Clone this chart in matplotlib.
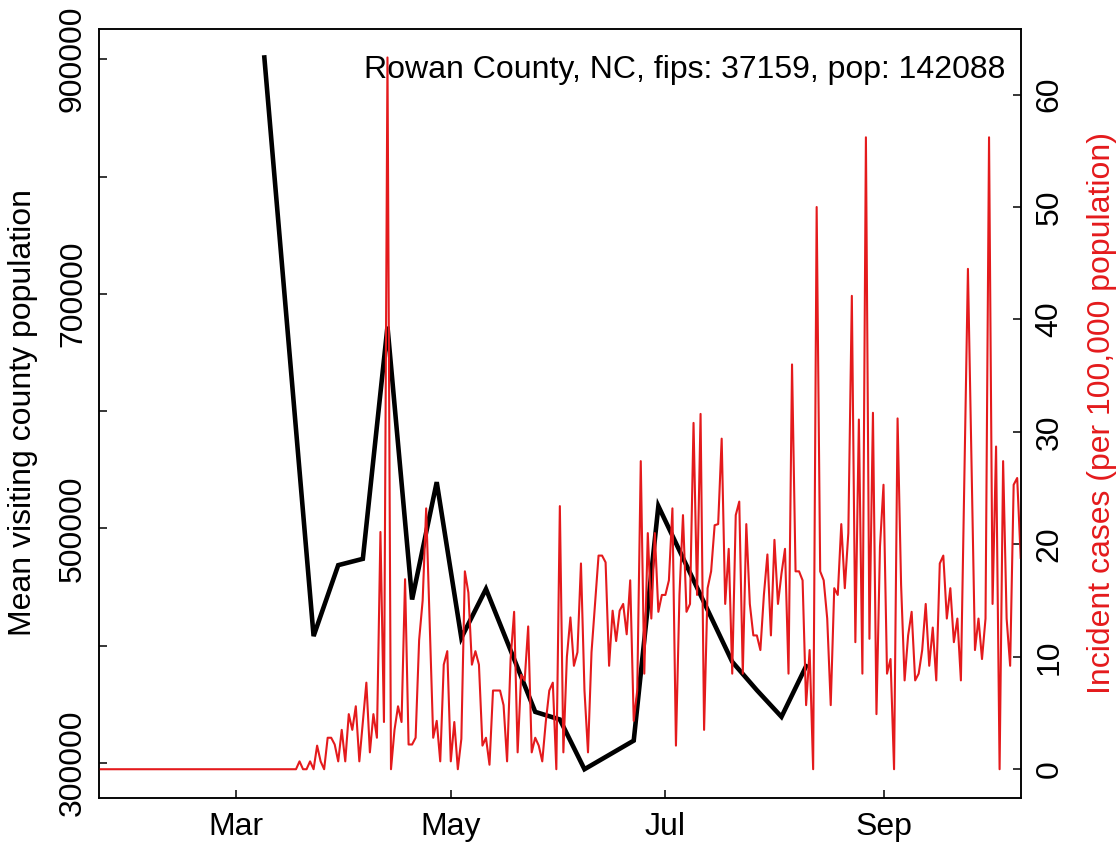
import matplotlib
matplotlib.use("Agg")
import matplotlib.pyplot as plt
import numpy as np
import pandas as pd

# daily incident cases per 100,000 (Jan 22 - Oct 10, 2020)
case_start = "2020-01-22"
cases = [0.0] * 57 + [
    0.7, 0, 0, 0.7, 0, 2.1, 0.7, 0, 2.8, 2.8,            # 57-66
    2.2, 0.7, 3.5, 0.7, 4.9, 3.5, 5.6, 0.7, 4.2, 7.7,    # 67-76
    1.5, 4.9, 2.8, 21.1, 4.2, 63.3, 0, 3.5, 5.6, 4.2,    # 77-86
    16.9, 2.2, 2.2, 2.8, 11.5, 15, 23.2, 13, 2.8, 4.3,   # 87-96
    0.7, 9.3, 10.5, 0.7, 4.2, 0, 2.7, 17.6, 15.7, 9.3,   # 97-106
    10.5, 9.3, 2.1, 2.8, 0.4, 7.0, 7.0, 7.0, 5.7, 0.7,   # 107-116
    9.8, 14.0, 1.5, 8.4, 7.9, 12.7, 1.5, 2.8, 2.1, 0.7,  # 117-126
    4.2, 7.0, 7.7, 0, 23.4, 1.5, 10.0, 13.5, 9.2, 10.4,  # 127-136
    18.3, 7.0, 1.5, 10.4, 14.7, 19.0, 19.0, 18.4, 9.2, 14.1,  # 137-146
    11.4, 14.1, 14.7, 12.0, 16.8, 4.3, 7.0, 27.4, 8.5, 21.0,  # 147-156
    13.4, 21.0, 14.0, 15.5, 15.5, 16.8, 23.2, 2.1, 15.5, 22.6,  # 157-166
    14.0, 14.7, 30.8, 15.5, 31.6, 3.5, 16.1, 17.6, 21.7, 21.8,  # 167-176
    29.4, 14.7, 19.6, 8.5, 22.6, 23.8, 8.5, 21.8, 14.7, 11.9,   # 177-186
    11.9, 10.6, 15.5, 19.1, 11.9, 20.4, 14.7, 17.4, 19.6, 8.5,  # 187-196
    36.0, 17.6, 17.6, 16.8, 5.7, 10.6, 0, 50.0, 17.6, 16.8,     # 197-206
    13.4, 5.7, 16.1, 15.5, 21.8, 16.1, 21.0, 42.1, 11.3, 31.1,  # 207-216
    8.5, 56.2, 11.6, 31.7, 4.9, 19.8, 25.3, 8.5, 9.8, 0,        # 217-226
    31.2, 16.4, 7.9, 11.9, 14.0, 7.9, 8.5, 10.6, 14.7, 9.2,     # 227-236
    12.6, 7.9, 18.3, 19.0, 13.4, 16.1, 11.3, 13.4, 7.9, 26.0,   # 237-246
    44.5, 27.5, 10.6, 13.4, 9.8, 13.4, 56.2, 14.7, 28.7, 0,     # 247-256
    27.4, 13.4, 9.2, 25.3, 25.9, 18.8,                          # 257-262
]

# weekly mean visiting county population
visit_dates = ["2020-03-09", "2020-03-23", "2020-03-30", "2020-04-06", "2020-04-13",
               "2020-04-20", "2020-04-27", "2020-05-04", "2020-05-11", "2020-05-18",
               "2020-05-25", "2020-06-01", "2020-06-08", "2020-06-22", "2020-06-29",
               "2020-07-20", "2020-07-27", "2020-08-03", "2020-08-10"]
visit_pop = [901500, 408100, 468600, 474000, 672000,
             439300, 539400, 406600, 448300, 396000,
             343500, 337000, 294600, 319000, 519000,
             386200, 362000, 339300, 382500]

month_ticks = ["2020-03-01", "2020-05-01", "2020-07-01", "2020-09-01"]
month_labels = ["Mar", "May", "Jul", "Sep"]
left_ticks = [300000, 400000, 500000, 600000, 700000, 800000, 900000]
left_labels = ["300000", "", "500000", "", "700000", "", "900000"]
right_ticks = [0, 10, 20, 30, 40, 50, 60]

title = "Rowan County, NC, fips: 37159, pop: 142088"
RED = "#E41A1C"
FS = 23


def r_range(vals):
    lo, hi = min(vals), max(vals)
    pad = 0.04 * (hi - lo)
    return lo - pad, hi + pad


def main():
    plt.rcParams['font.family'] = ['Liberation Sans', 'DejaVu Sans']
    case_dates = pd.date_range(case_start, periods=len(cases), freq="D")
    vdates = pd.to_datetime(visit_dates)

    fig = plt.figure(figsize=(11.19, 8.46), dpi=100)
    W, H = 1119, 846
    l, r, t, b = 99, 1020.7, 29, 797.7
    ax = fig.add_axes([l / W, 1 - b / H, (r - l) / W, (b - t) / H])
    ax2 = ax.twinx()

    ax.plot(vdates, visit_pop, color="black", lw=3.3, solid_joinstyle="miter")
    ax.set_ylim(*r_range(visit_pop))
    ax.set_xlim(case_dates[0], case_dates[-1])
    ax.set_yticks(left_ticks)
    ax.set_yticklabels(left_labels, rotation=90, va="center", fontsize=FS)
    ax.set_xticks(pd.to_datetime(month_ticks))
    ax.set_xticklabels(month_labels, fontsize=FS)

    ax2.plot(case_dates, cases, color=RED, lw=1.5)
    ax2.set_ylim(*r_range(cases))
    ax2.set_xlim(case_dates[0], case_dates[-1])
    ax2.set_yticks(right_ticks)
    ax2.set_yticklabels([str(v) for v in right_ticks], rotation=90, va="center", fontsize=FS)

    for a in (ax, ax2):
        a.tick_params(direction="in", length=6, width=1.1, pad=8)
        for s in a.spines.values():
            s.set_linewidth(1.1)
    ax.tick_params(axis="x", pad=10)
    ax2.tick_params(axis="y", pad=10)

    ax.text(0.983, 0.947, title, transform=ax.transAxes, ha="right", va="center", fontsize=FS)
    fig.text(23 / W, 1 - 413 / H, "Mean visiting county population", rotation=90,
             ha="center", va="center", fontsize=FS)
    fig.text(1102 / W, 1 - 413 / H, "Incident cases (per 100,000 population)", rotation=90,
             ha="center", va="center", fontsize=FS, color=RED)

    fig.savefig("out.png", dpi=100)


if __name__ == "__main__":
    main()
